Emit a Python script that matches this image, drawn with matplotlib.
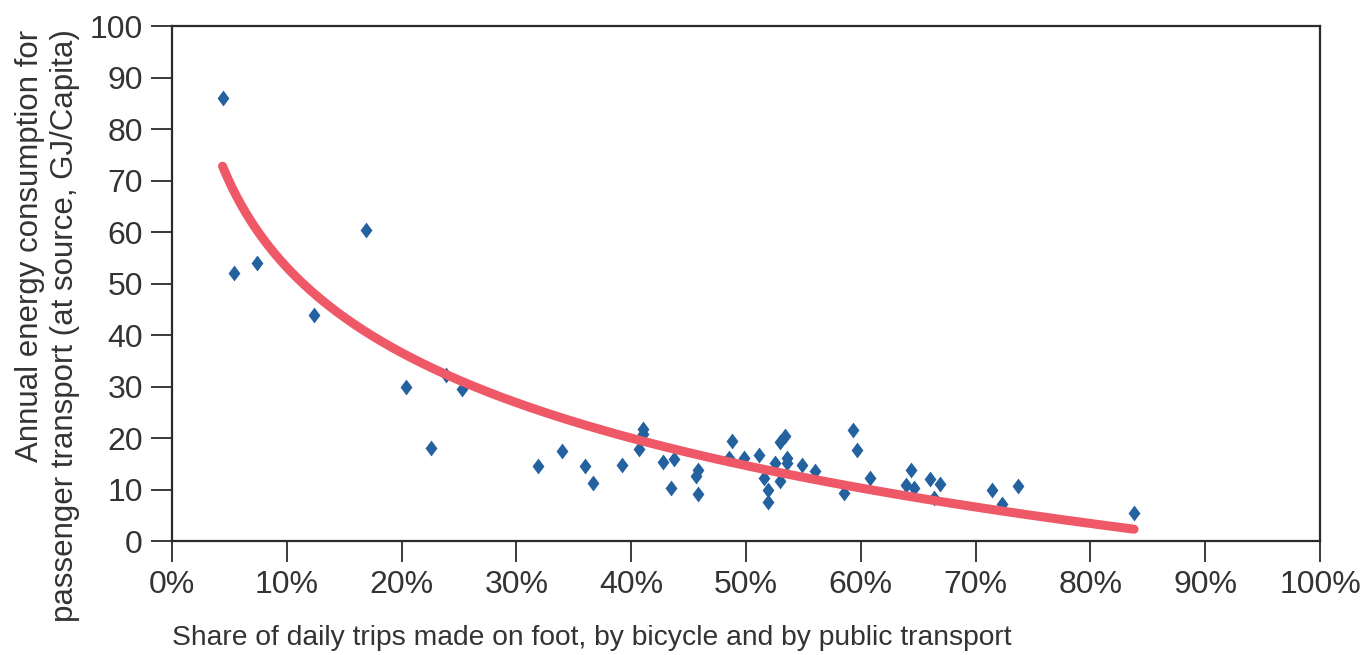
import numpy as np
import matplotlib
matplotlib.use('Agg')
import matplotlib.pyplot as plt

plt.rcParams['font.family'] = ['Liberation Sans', 'DejaVu Sans']

# share of daily trips on foot / bicycle / public transport (%)
share = [4.4, 5.4, 7.4, 12.4, 16.9, 20.4, 22.6, 23.9, 25.3, 31.9, 34.0, 36.0, 36.7,
         39.2, 40.7, 41.0, 41.0, 42.8, 43.5, 43.7, 45.6, 45.8, 45.8, 48.5, 48.8, 49.8,
         51.1, 51.6, 51.9, 51.9, 52.5, 53.0, 53.0, 53.4, 53.6, 53.6, 54.9, 56.0, 58.5,
         59.3, 59.7, 60.8, 63.9, 64.4, 64.6, 66.0, 66.4, 66.9, 71.4, 72.3, 73.7, 83.8]
# annual energy consumption for passenger transport (GJ/capita)
energy = [86.0, 52.0, 54.0, 43.9, 60.4, 29.9, 18.1, 32.2, 29.5, 14.6, 17.5, 14.5, 11.3,
          14.8, 17.9, 21.7, 20.7, 15.3, 10.2, 16.0, 12.6, 13.7, 9.2, 16.1, 19.4, 16.1,
          16.7, 12.2, 9.9, 7.6, 15.1, 19.2, 11.7, 20.4, 16.1, 15.1, 14.8, 13.6, 9.4,
          21.6, 17.7, 12.2, 10.9, 13.8, 10.3, 12.0, 8.3, 11.1, 9.9, 7.2, 10.7, 5.4]

# logarithmic trend line as drawn in the chart: y = a + b*ln(x)
trend_a = -1.93
trend_b = -23.92

x = np.array(share) / 100
y = np.array(energy)

xs = np.linspace(x.min(), x.max(), 200)
ys = trend_a + trend_b * np.log(xs)

fig = plt.figure(figsize=(13.63, 6.55), dpi=100)
ax = fig.add_axes([0.1262, 0.174, 0.8423, 0.7863])

diamond = [(0, 1), (0.75, 0), (0, -1), (-0.75, 0), (0, 1)]
ax.scatter(x, y, marker=diamond, s=130, color='#23619f', zorder=2, linewidths=0)
ax.plot(xs, ys, color='#ef5867', lw=6.5, solid_capstyle='round', zorder=3)

ax.set_xlim(0, 1)
ax.set_ylim(0, 100)
ticks = np.arange(0, 1.01, 0.1)
ax.set_xticks(ticks)
ax.set_xticklabels([f'{int(round(v * 100))}%' for v in ticks])
ax.set_yticks(range(0, 101, 10))

for s in ax.spines.values():
    s.set_color('#2b2b2b')
    s.set_linewidth(1.6)
ax.tick_params(axis='both', length=15, width=1.3, color='#2b2b2b',
               labelsize=23, labelcolor='#333333', pad=6)

ax.set_xlabel('Share of daily trips made on foot, by bicycle and by public transport',
              fontsize=20.3, color='#333333', loc='left', labelpad=18)

fig.text(0.035, 0.955, 'Annual energy consumption for\npassenger transport (at source, GJ/Capita)',
         rotation=90, ha='center', va='top', multialignment='right',
         fontsize=22.5, color='#333333', linespacing=1.2)

fig.savefig('out.png', dpi=100)
